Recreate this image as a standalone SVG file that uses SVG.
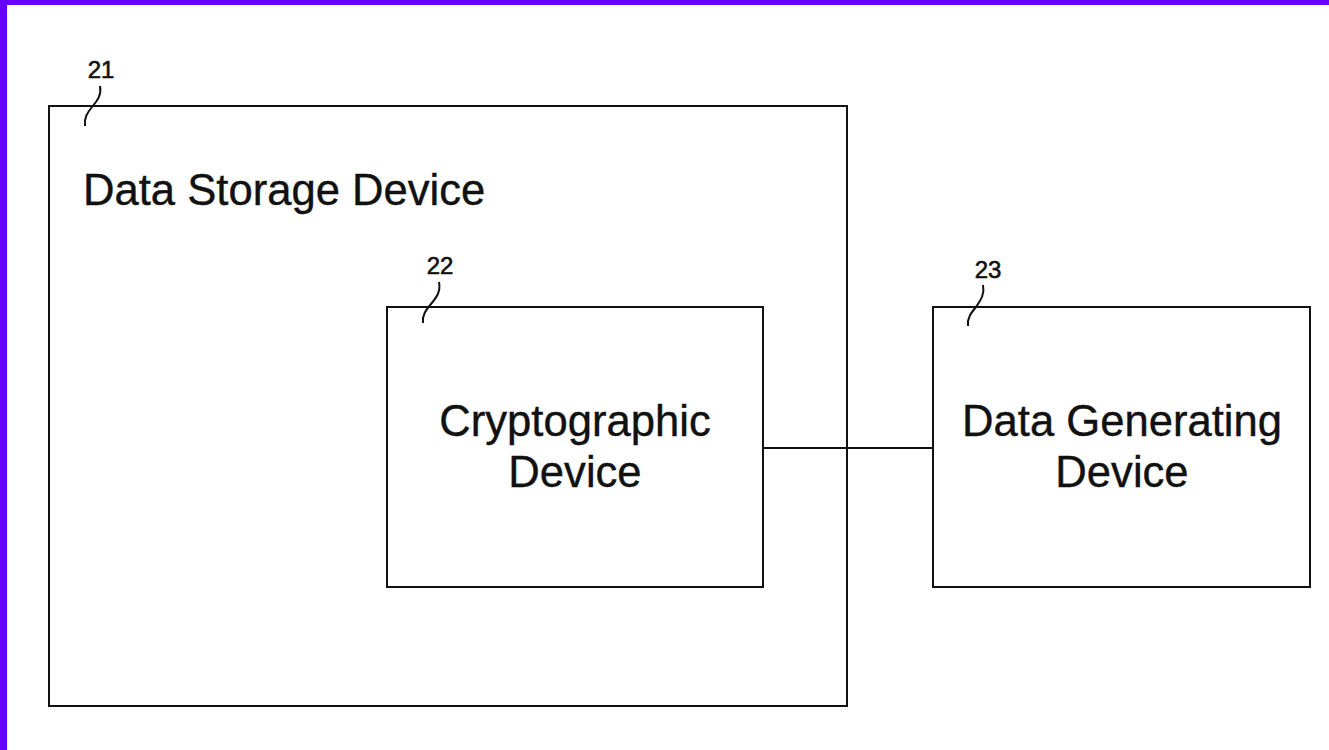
<svg xmlns="http://www.w3.org/2000/svg" width="1329" height="750" viewBox="0 0 1329 750">
<style>
.box{fill:none;stroke:#111;stroke-width:2}
.lead{fill:none;stroke:#111;stroke-width:2}
.lbl{font-family:"Liberation Sans",Arial,sans-serif;font-size:43.6px;fill:#111;stroke:#111;stroke-width:0.4}
.num{font-family:"Liberation Sans",Arial,sans-serif;font-size:24px;fill:#111;stroke:#111;stroke-width:0.6;text-anchor:middle}
.conn{stroke:#111;stroke-width:2;fill:none}
</style>
<rect x="0" y="0" width="1329" height="750" fill="#fff"/>
<rect x="0" y="0" width="1329" height="5" fill="#6600ff"/>
<rect x="0" y="0" width="7" height="750" fill="#6600ff"/>
<g id="connectors">
<line class="conn" x1="763" y1="448" x2="933" y2="448"/>
</g>
<g id="node21">
<rect class="box" x="49" y="106" width="798" height="600"/>
<text class="lbl" x="83" y="205">Data Storage Device</text>
<text class="num" x="101" y="78">21</text>
<path class="lead" d="M100,86 C102,96 96,102 92,107 C87,113 84,118 85,126"/>
</g>
<g id="node22">
<rect class="box" x="387" y="307" width="376" height="280"/>
<text class="lbl" x="575" y="436" text-anchor="middle">Cryptographic</text>
<text class="lbl" x="575" y="487" text-anchor="middle">Device</text>
<text class="num" x="440" y="274">22</text>
<path class="lead" d="M439,282 C441,292 436,298 431,304 C426,310 422,315 423,323"/>
</g>
<g id="node23">
<rect class="box" x="933" y="307" width="377" height="280"/>
<text class="lbl" x="1122" y="436" text-anchor="middle">Data Generating</text>
<text class="lbl" x="1122" y="487" text-anchor="middle">Device</text>
<text class="num" x="988" y="278">23</text>
<path class="lead" d="M983,285 C985,295 980,301 976,307 C971,313 967,318 968,326"/>
</g>
</svg>
